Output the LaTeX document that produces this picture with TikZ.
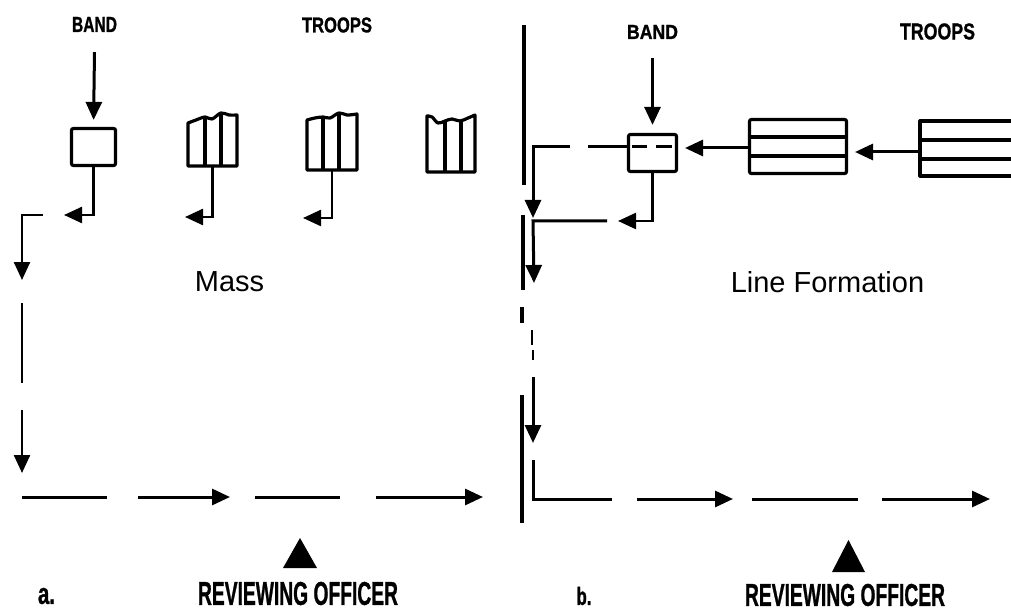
\documentclass[tikz,border=0pt]{standalone}
\usepackage{fontspec}
\setmainfont{Liberation Sans}
\newfontfamily\stencilfont[FakeBold=1.2]{Liberation Sans Bold}
\usepackage{graphicx}
\usetikzlibrary{arrows.meta,calc}
\newcommand{\stencil}[3]{\resizebox{#1pt}{#2pt}{\stencilfont #3}}
\begin{document}
\begin{tikzpicture}[x=1pt,y=-1pt,
  ln/.style={line width=3pt},
  thin ln/.style={line width=2.4pt},
  arr/.style={ln,-{Triangle[length=18pt,width=16pt]}},
  thin arr/.style={thin ln,-{Triangle[length=18pt,width=16pt]}},
  outline/.style={line width=3.2pt,line join=round},
  bandbox/.style={draw,line width=3.2pt,rounded corners=2pt,inner sep=0pt},
  troop/.style={inner sep=0pt},
  lbl/.style={inner sep=0pt},
  title/.style={inner sep=0pt,font=\fontsize{29}{30}\selectfont},
  ]
\useasboundingbox (0,0) rectangle (1011,612);

% ---------------- panel a ----------------
\node[lbl] (bandA) at (94.5,24.5) {\stencil{45}{15}{BAND}};
\node[lbl] (troopsA) at (337,25) {\stencil{70}{15}{TROOPS}};
\node[bandbox,minimum width=44pt,minimum height=37pt] (boxA) at (93.5,147) {};
\draw[arr,shorten >=7pt] ([yshift=-20pt]bandA.south) -- (boxA.north);

% troop blocks (wavy fronts)
\node[troop,minimum width=49pt,minimum height=52pt] (tA1) at (212.5,141) {};
\node[troop,minimum width=50pt,minimum height=55pt] (tA2) at (332,142.5) {};
\node[troop,minimum width=48pt,minimum height=56pt] (tA3) at (451,144) {};

\draw[outline] plot[smooth,tension=0.6] coordinates {(188,123) (196,120) (205,117) (212,119) (221,113) (229,115) (237,115)}
  -- (237,166) -- (188,166) -- cycle;
\draw[outline] (205,117) -- (205,166) (221,114) -- (221,166);

\draw[outline] plot[smooth,tension=0.6] coordinates {(307,120) (315,118) (323,117) (330,118) (339,113) (347,115) (357,114)}
  -- (357,170) -- (307,170) -- cycle;
\draw[outline] (323,117) -- (323,170) (339,114) -- (339,170);

\draw[outline] plot[smooth,tension=0.6] coordinates {(427,116) (432,117) (438,123) (445,121) (452,119) (460,121) (468,118) (475,115)}
  -- (475,172) -- (427,172) -- cycle;
\draw[outline] (445,121) -- (445,172) (461,121) -- (461,172);

% wheel-out arrows
\coordinate (a1) at (64,215);
\coordinate (a2) at (185,217);
\coordinate (a3) at (303,218);
\draw[thin arr] (boxA.south) |- (a1);
\draw[thin arr] (tA1.south) |- (a2);
\draw[thin arr] (tA2.south) |- (a3);

% line of march
\coordinate (p0) at (43,215);
\coordinate (p1) at (22,215);
\coordinate (p2) at (22,280);
\coordinate (p3) at (22,303);
\coordinate (p4) at (22,383);
\coordinate (p5) at (22,410);
\coordinate (p6) at (22,473);
\draw[thin arr] (p0) -- (p1) -- (p2);
\draw[thin ln] (p3) -- (p4);
\draw[thin arr] (p5) -- (p6);

\coordinate (h1) at (22,497);  \coordinate (h2) at (107,497);
\coordinate (h3) at (138,497); \coordinate (h4) at (230,497);
\coordinate (h5) at (255,497); \coordinate (h6) at (340,497);
\coordinate (h7) at (376,497); \coordinate (h8) at (483,497);
\draw[ln] (h1) -- (h2);
\draw[arr] (h3) -- (h4);
\draw[ln] (h5) -- (h6);
\draw[arr] (h7) -- (h8);

\node[title] (massT) at (229.5,281.5) {Mass};

\fill (283,568) -- (300,538) -- (317,568) -- cycle;
\node[lbl] (roA) at (298,593.5) {\stencil{200}{23}{REVIEWING OFFICER}};
\node[lbl] (capA) at (46.5,596) {\resizebox{17pt}{16pt}{\stencilfont a.}};

% ---------------- divider ----------------
\draw[line width=3.4pt] (524,25) -- (524,185);
\draw[line width=3.4pt] (523,215) -- (523,290);
\draw[line width=3.4pt] (522,307) -- (522,323);
\draw[line width=3.4pt] (522,395) -- (522,523);

% ---------------- panel b ----------------
\node[lbl] (bandB) at (652.5,32) {\stencil{51}{14}{BAND}};
\node[lbl] (troopsB) at (937.5,31.5) {\stencil{75}{16}{TROOPS}};
\node[bandbox,minimum width=48pt,minimum height=37pt] (boxB) at (652.5,153) {};
\draw[arr,shorten >=8pt] ([yshift=-19pt]bandB.south) -- (boxB.north);
\draw[line width=3pt] (632,147) -- (647,147) (656,147) -- (672,147);

\node[bandbox,minimum width=97pt,minimum height=54pt] (tB1) at (798,146.5) {};
\draw[line width=3.2pt] (748,137) -- (848,137) (748,156) -- (848,156);

\node[troop,minimum width=91pt,minimum height=55pt] (tB2) at (965.5,148.5) {};
\draw[outline] (1012,121) -- (920,121) -- (920,176) -- (1012,176);
\draw[line width=3.2pt] (920,140) -- (1012,140) (920,159) -- (1012,159);

\coordinate (b1) at (685,148);
\coordinate (b2) at (855,152);
\draw[arr] (tB1.west |- b1) -- (b1);
\draw[arr] (tB2.west |- b2) -- (b2);

% band wheels from the line
\coordinate (bd1) at (588,147);
\coordinate (bd2) at (570,147);
\coordinate (c1) at (533,147);
\coordinate (c2) at (533,218);
\draw[ln] (boxB.west |- bd1) -- (bd1);
\draw[arr] (bd2) -- (c1) -- (c2);

\coordinate (b3) at (618,221);
\draw[thin arr] (boxB.south) |- (b3);
\coordinate (c3) at (607,221);
\coordinate (c4) at (533,221);
\coordinate (c5) at (534,283);
\draw[arr] (c3) -- (c4) -- (c5);

\coordinate (d1) at (532,330); \coordinate (d2) at (532,345);
\coordinate (d3) at (533,350); \coordinate (d4) at (533,360);
\coordinate (d5) at (533,377); \coordinate (d6) at (533,443);
\coordinate (d7) at (533,460); \coordinate (d8) at (533,499);
\coordinate (d9) at (612,499);
\draw[thin ln] (d1) -- (d2);
\draw[thin ln] (d3) -- (d4);
\draw[arr] (d5) -- (d6);
\draw[ln] (d7) -- (d8) -- (d9);

\coordinate (g1) at (637,499); \coordinate (g2) at (733,499);
\coordinate (g3) at (752,499); \coordinate (g4) at (858,499);
\coordinate (g5) at (882,499); \coordinate (g6) at (990,499);
\draw[arr] (g1) -- (g2);
\draw[ln] (g3) -- (g4);
\draw[arr] (g5) -- (g6);

\node[title] (lineT) at (827.5,282.5) {Line Formation};

\fill (832,572) -- (848.5,540) -- (865,572) -- cycle;
\node[lbl] (roB) at (845,595) {\stencil{200}{22}{REVIEWING OFFICER}};
\node[lbl] (capB) at (584,596) {\resizebox{15pt}{18pt}{\stencilfont b.}};
\end{tikzpicture}
\end{document}
